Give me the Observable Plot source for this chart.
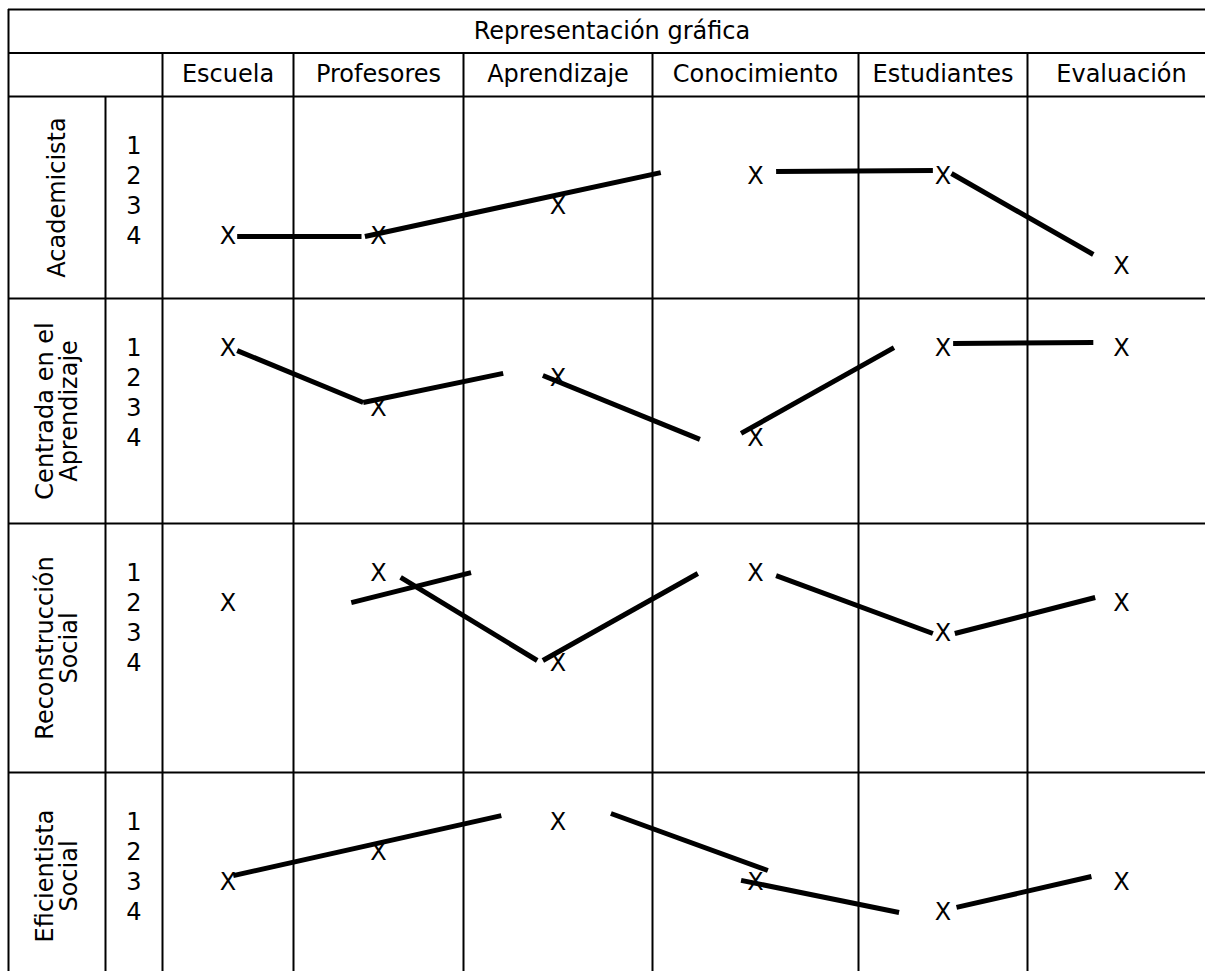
<!DOCTYPE html>
<html>
<head>
<meta charset="utf-8">
<script src="https://cdn.jsdelivr.net/npm/d3@7"></script>
<script src="https://cdn.jsdelivr.net/npm/@observablehq/plot@0.6"></script>
<style>
  html, body { margin: 0; padding: 0; background: #ffffff; }
  #chart { width: 1205px; height: 971px; overflow: hidden; }
</style>
</head>
<body>
<div id="chart"></div>
<script>
// ---------------- DATA ----------------
const title = "Representación gráfica";
const categories = ["Escuela", "Profesores", "Aprendizaje", "Conocimiento", "Estudiantes", "Evaluación"];
const profiles = ["Academicista", "Centrada en el\nAprendizaje", "Reconstrucción\nSocial", "Eficientista\nSocial"];
const levelLabels = ["1", "2", "3", "4"];

// level marked with an X for each category (1 = top line ... 4 = bottom line)
const academicista   = [4, 4, 3, 2, 2, 5];
const centrada       = [1, 3, 2, 4, 1, 1];
const reconstruccion = [2, 1, 4, 1, 3, 2];
const eficientista   = [3, 2, 1, 3, 4, 3];

// hand-drawn strokes: [category position start, level start, category position end, level end]
const academicistaStrokes   = [[0.57, 4.0, 1.40, 4.0], [1.42, 4.0, 3.04, 1.87], [3.60, 1.83, 4.44, 1.80], [4.55, 1.9, 5.35, 4.6]];
const centradaStrokes       = [[0.57, 1.07, 1.41, 2.8], [1.41, 2.8, 2.21, 1.83], [2.42, 1.9, 3.23, 4.03], [3.43, 3.83, 4.21, 0.97], [4.56, 0.83, 5.35, 0.80]];
const reconstruccionStrokes = [[1.34, 1.97, 2.04, 0.97], [1.63, 1.13, 2.39, 3.9], [2.42, 3.9, 3.22, 1.0], [3.60, 1.07, 4.44, 3.0], [4.57, 3.0, 5.36, 1.8]];
const eficientistaStrokes   = [[0.54, 2.77, 2.20, 0.77], [2.78, 0.70, 3.56, 2.6], [3.43, 2.93, 4.24, 4.0], [4.58, 3.83, 5.34, 2.8]];

// ---------------- LAYOUT ----------------
const W = 1205, H = 971;
const colEdges = [8, 105, 162, 293, 463, 652, 858, 1027, 1215];   // table column borders (px)
const colDomain = [-2, -1, 0, 1, 2, 3, 4, 5, 6];                 // label col, number col, categories
const LINE = 30;           // px per text line
const TOP = 9;             // table top (px)
const headerRows = [1.45, 1.45];             // heights in lines
const bodyRows = [6.733, 7.5, 8.3, 6.9];     // heights in lines
const font = "DejaVu Sans";
const fs = 24;

const headerTops = [0, headerRows[0]];
const bodyTops = [];
{ let t = headerRows[0] + headerRows[1]; for (const h of bodyRows) { bodyTops.push(t); t += h; } }
const totalLines = bodyTops[bodyTops.length - 1] + bodyRows[bodyRows.length - 1];
const levelY = (r, L) => bodyTops[r] + 0.667 + L;

const series = [academicista, centrada, reconstruccion, eficientista];
const strokes = [academicistaStrokes, centradaStrokes, reconstruccionStrokes, eficientistaStrokes];

const marksX = series.flatMap((vals, r) => vals.map((L, c) => ({x: c + 0.5, y: levelY(r, L)})));
const links = strokes.flatMap((arr, r) => arr.map(([a, l1, b, l2]) => ({x1: a, y1: levelY(r, l1), x2: b, y2: levelY(r, l2)})));
const numbers = profiles.flatMap((p, r) => levelLabels.map((t, i) => ({t, y: levelY(r, i + 1)})));

const bottom = totalLines;
const hLines = [
  {y: 0, x1: -2, x2: 6},
  {y: headerTops[1], x1: -2, x2: 6},
  ...bodyTops.map(y => ({y, x1: -2, x2: 6}))
];
const vLines = [
  {x: -2, y1: 0, y2: bottom},
  {x: -1, y1: bodyTops[0], y2: bottom},
  ...[0, 1, 2, 3, 4, 5].map(x => ({x, y1: headerTops[1], y2: bottom})),
  {x: 6, y1: 0, y2: bottom}
];

const chart = Plot.plot({
  width: W,
  height: H,
  margin: 0,
  x: {type: "linear", domain: colDomain, range: colEdges, axis: null},
  y: {type: "linear", domain: [0, totalLines], range: [TOP, TOP + totalLines * LINE], axis: null},
  style: {fontFamily: font, fontSize: fs + "px", background: "#ffffff", color: "#000"},
  marks: [
    Plot.ruleY(hLines, {y: "y", x1: "x1", x2: "x2", stroke: "#000", strokeWidth: 2}),
    Plot.ruleX(vLines, {x: "x", y1: "y1", y2: "y2", stroke: "#000", strokeWidth: 2}),
    Plot.text([title], {text: d => d, y: () => headerTops[0] + headerRows[0] / 2, frameAnchor: "middle", dx: 9, fontSize: fs, fill: "#000"}),
    Plot.text(categories, {text: d => d, x: (d, i) => i + 0.5, y: () => headerTops[1] + headerRows[1] / 2, fontSize: fs, fill: "#000"}),
    Plot.text(profiles, {text: d => d, x: () => -1.5, y: (d, i) => bodyTops[i] + bodyRows[i] / 2, rotate: -90, lineHeight: 1.04, fontSize: fs, fill: "#000"}),
    Plot.text(numbers, {text: "t", x: () => -0.5, y: "y", fontSize: fs, fill: "#000"}),
    Plot.text(marksX, {text: () => "X", x: "x", y: "y", fontSize: fs, fill: "#000"}),
    Plot.link(links, {x1: "x1", y1: "y1", x2: "x2", y2: "y2", stroke: "#000", strokeWidth: 5, strokeLinecap: "butt"})
  ]
});
document.getElementById("chart").appendChild(chart);
</script>
</body>
</html>
